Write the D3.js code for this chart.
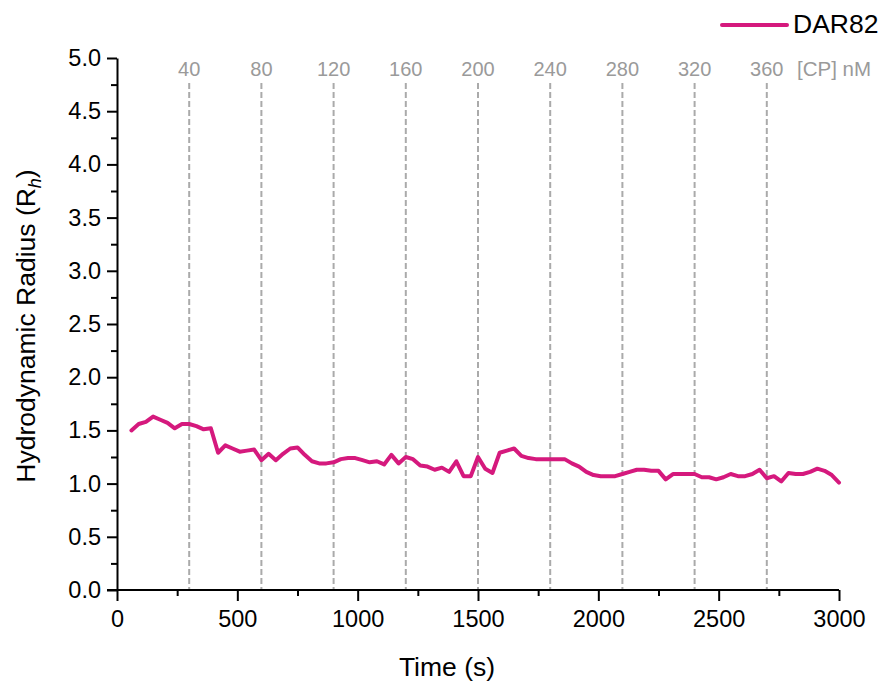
<!DOCTYPE html>
<html>
<head>
<meta charset="utf-8">
<script src="https://cdn.jsdelivr.net/npm/d3@7"></script>
<style>
  html, body { margin: 0; padding: 0; background: #fff; }
  svg { display: block; font-family: "Liberation Sans", Arial, sans-serif; }
</style>
</head>
<body>
<svg id="chart" width="888" height="681"></svg>
<script>
// Time points (s) and hydrodynamic radius readings for DAR82
const timeS = [60, 90, 120, 150, 180, 210, 240, 270, 300, 330, 360, 390, 420, 450, 480, 510, 540, 570,
  600, 630, 660, 690, 720, 750, 780, 810, 840, 870, 900, 930, 960, 990, 1020, 1050, 1080, 1110,
  1140, 1170, 1200, 1230, 1260, 1290, 1320, 1350, 1380, 1410, 1440, 1470, 1500, 1530, 1560, 1590,
  1620, 1650, 1680, 1710, 1740, 1770, 1800, 1830, 1860, 1890, 1920, 1950, 1980, 2010, 2040, 2070,
  2100, 2130, 2160, 2190, 2220, 2250, 2280, 2310, 2340, 2370, 2400, 2430, 2460, 2490, 2520, 2550,
  2580, 2610, 2640, 2670, 2700, 2730, 2760, 2790, 2820, 2850, 2880, 2910, 2940, 2970, 3000];
const radiusDAR82 = [1.50, 1.56, 1.58, 1.63, 1.60, 1.57, 1.52, 1.56, 1.56, 1.54, 1.51, 1.52, 1.29, 1.36, 1.33, 1.30, 1.31, 1.32,
  1.22, 1.28, 1.22, 1.28, 1.33, 1.34, 1.27, 1.21, 1.19, 1.19, 1.20, 1.23, 1.24, 1.24, 1.22, 1.20, 1.21, 1.18,
  1.27, 1.19, 1.25, 1.23, 1.17, 1.16, 1.13, 1.15, 1.11, 1.21, 1.07, 1.07, 1.25, 1.14, 1.10, 1.29,
  1.31, 1.33, 1.26, 1.24, 1.23, 1.23, 1.23, 1.23, 1.23, 1.19, 1.16, 1.11, 1.08, 1.07, 1.07, 1.07,
  1.09, 1.11, 1.13, 1.13, 1.12, 1.12, 1.04, 1.09, 1.09, 1.09, 1.09, 1.06, 1.06, 1.04, 1.06, 1.09,
  1.07, 1.07, 1.09, 1.13, 1.05, 1.07, 1.02, 1.10, 1.09, 1.09, 1.11, 1.14, 1.12, 1.08, 1.01];

// Titration steps: injection time (s) and cumulative [CP] (nM)
const injectionTimes = [300, 600, 900, 1200, 1500, 1800, 2100, 2400, 2700];
const cpLabels = ["40", "80", "120", "160", "200", "240", "280", "320", "360"];

// Axis ticks
const xTicks = [0, 500, 1000, 1500, 2000, 2500, 3000];
const xMinorTicks = [250, 750, 1250, 1750, 2250, 2750];
const yTicks = [0, 0.5, 1, 1.5, 2, 2.5, 3, 3.5, 4, 4.5, 5];
const yMinorTicks = [0.25, 0.75, 1.25, 1.75, 2.25, 2.75, 3.25, 3.75, 4.25, 4.75];

const lineColor = "#D5197D";
const svg = d3.select("#chart");

const x = d3.scaleLinear().domain([0, 3000]).range([117, 839]);
const y = d3.scaleLinear().domain([0, 5]).range([590, 58]);

// Dashed injection markers
svg.append("g").selectAll("line").data(injectionTimes).join("line")
  .attr("x1", d => x(d)).attr("x2", d => x(d))
  .attr("y1", 83).attr("y2", y(0))
  .attr("stroke", "#aaaaaa").attr("stroke-width", 2)
  .attr("stroke-dasharray", "6,3");

svg.append("g").selectAll("text").data(injectionTimes).join("text")
  .attr("x", d => x(d)).attr("y", 76)
  .attr("text-anchor", "middle")
  .attr("font-size", 20).attr("fill", "#9a9a9a")
  .text((d, i) => cpLabels[i]);

svg.append("text")
  .attr("x", 797).attr("y", 76)
  .attr("font-size", 20.5).attr("fill", "#9a9a9a")
  .text("[CP] nM");

// Axes
const xAxis = svg.append("g").attr("transform", `translate(0,${y(0)})`)
  .call(d3.axisBottom(x).tickValues(xTicks).tickFormat(d3.format("d")).tickSize(11).tickSizeOuter(0).tickPadding(9));
svg.append("g").attr("transform", `translate(0,${y(0)})`)
  .call(d3.axisBottom(x).tickValues(xMinorTicks).tickFormat("").tickSize(6).tickSizeOuter(0))
  .call(g => g.select(".domain").remove());

const yAxis = svg.append("g").attr("transform", `translate(${x(0)},0)`)
  .call(d3.axisLeft(y).tickValues(yTicks).tickFormat(d3.format(".1f")).tickSize(10).tickSizeOuter(0).tickPadding(6));
svg.append("g").attr("transform", `translate(${x(0)},0)`)
  .call(d3.axisLeft(y).tickValues(yMinorTicks).tickFormat("").tickSize(6).tickSizeOuter(0))
  .call(g => g.select(".domain").remove());

svg.selectAll(".domain").attr("stroke", "#000").attr("stroke-width", 2);
svg.selectAll(".tick line").attr("stroke", "#000").attr("stroke-width", 2);
svg.selectAll(".tick text").attr("font-size", 23.5).attr("fill", "#000")
  .attr("font-family", "'Liberation Sans', Arial, sans-serif");

// Extend x axis line slightly left of the y axis
xAxis.select(".domain").attr("d", `M${x(0) - 10},0H${x(3000)}`);

// Axis titles
svg.append("text")
  .attr("x", 447).attr("y", 676)
  .attr("text-anchor", "middle").attr("font-size", 26.5)
  .text("Time (s)");

const yTitle = svg.append("text")
  .attr("transform", `translate(35,${y(2.5) + 2}) rotate(-90)`)
  .attr("text-anchor", "middle").attr("font-size", 26.5);
yTitle.append("tspan").text("Hydrodynamic Radius (R");
yTitle.append("tspan").attr("font-size", 18).attr("font-style", "italic").attr("dy", 6).text("h");
yTitle.append("tspan").attr("dy", -6).text(")");

// Data line
const pts = timeS.map((t, i) => [t, radiusDAR82[i]]);
svg.append("path")
  .datum(pts)
  .attr("fill", "none")
  .attr("stroke", lineColor)
  .attr("stroke-width", 4)
  .attr("stroke-linejoin", "round")
  .attr("stroke-linecap", "round")
  .attr("d", d3.line().x(d => x(d[0])).y(d => y(d[1])));

// Legend
svg.append("line")
  .attr("x1", 722).attr("x2", 787).attr("y1", 25).attr("y2", 25)
  .attr("stroke", lineColor).attr("stroke-width", 4).attr("stroke-linecap", "round");
svg.append("text")
  .attr("x", 793).attr("y", 33)
  .attr("font-size", 26.5).attr("fill", "#000")
  .text("DAR82");
</script>
</body>
</html>
